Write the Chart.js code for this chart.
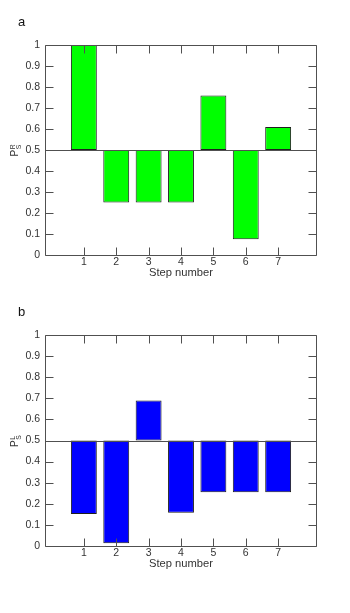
<!DOCTYPE html>
<html>
<head>
<meta charset="utf-8">
<script src="https://cdn.jsdelivr.net/npm/chart.js@4"></script>
<style>
  html, body { margin: 0; padding: 0; background: #fff; width: 350px; height: 613px; overflow: hidden; }
  .panel { position: absolute; left: 0; }
</style>
</head>
<body>
<div class="panel" style="top:0px"><canvas id="chartA" width="350" height="290"></canvas></div>
<div class="panel" style="top:290px"><canvas id="chartB" width="350" height="323"></canvas></div>
<script>
// ---- data ----
const steps = [1, 2, 3, 4, 5, 6, 7];
const pR = [1.0, 0.25, 0.25, 0.25, 0.76, 0.075, 0.61];   // panel a, P_S^R
const pL = [0.152, 0.013, 0.69, 0.157, 0.255, 0.255, 0.255]; // panel b, P_S^L
const baseline = 0.5;
const yTickLabels = ['0', '0.1', '0.2', '0.3', '0.4', '0.5', '0.6', '0.7', '0.8', '0.9', '1'];
const xTickLabels = ['1', '2', '3', '4', '5', '6', '7'];

const FONT = '"Liberation Sans", Arial, Helvetica, sans-serif';
const FRAME = '#505050';
const TEXT = '#333333';

function framePlugin(panelLetter, supText) {
  return {
    id: 'frame' + panelLetter,
    afterDraw(chart) {
      const { ctx, chartArea: a, scales } = chart;
      const xs = scales.x, ys = scales.y;
      ctx.save();
      ctx.strokeStyle = FRAME;
      ctx.lineWidth = 1;
      // baseline at 0.5
      const yb = Math.round(ys.getPixelForValue(baseline)) + 0.5;
      ctx.beginPath();
      ctx.moveTo(a.left, yb); ctx.lineTo(a.right, yb);
      ctx.stroke();
      // frame
      const L = Math.round(a.left) + 0.5, R = Math.round(a.right) - 0.5;
      const T = Math.round(a.top) + 0.5, B = Math.round(a.bottom) + 0.5;
      ctx.beginPath();
      ctx.moveTo(L, T); ctx.lineTo(R, T); ctx.lineTo(R, B); ctx.lineTo(L, B); ctx.closePath();
      ctx.stroke();
      const tl = 8;
      // y ticks inward on both sides
      ys.ticks.forEach(t => {
        const py = Math.round(ys.getPixelForValue(t.value)) + 0.5;
        ctx.beginPath();
        ctx.moveTo(L, py); ctx.lineTo(L + tl, py);
        ctx.moveTo(R, py); ctx.lineTo(R - tl, py);
        ctx.stroke();
      });
      // x ticks inward top and bottom
      xs.ticks.forEach(t => {
        const px = Math.round(xs.getPixelForValue(t.value)) + 0.5;
        ctx.beginPath();
        ctx.moveTo(px, B); ctx.lineTo(px, B - tl);
        ctx.moveTo(px, T); ctx.lineTo(px, T + tl);
        ctx.stroke();
      });
      // panel letter
      ctx.fillStyle = '#111';
      ctx.font = '13px ' + FONT;
      ctx.textBaseline = 'alphabetic';
      ctx.textAlign = 'left';
      ctx.fillText(panelLetter, 18, 26);
      // y-axis label P with superscript and subscript, rotated
      const cy = (a.top + a.bottom) / 2;
      ctx.translate(17.5, cy + 6.5);
      ctx.rotate(-Math.PI / 2);
      ctx.fillStyle = TEXT;
      ctx.font = '10px ' + FONT;
      ctx.fillText('P', 0, 0);
      const w = ctx.measureText('P').width;
      ctx.font = '6.8px ' + FONT;
      ctx.fillText(supText, w + 0.5, -3);
      ctx.fillText('S', w + 0.5, 3.5);
      ctx.restore();
    }
  };
}

function makeChart(id, values, color, letter, sup, padBottom) {
  const data = steps.map((s, i) => ({ x: s, y: [baseline, values[i]] }));
  return new Chart(document.getElementById(id), {
    type: 'bar',
    data: {
      datasets: [{
        data: data,
        backgroundColor: color,
        borderColor: '#1e1e1e',
        borderWidth: 1,
        borderSkipped: false,
        barPercentage: 0.8,
        categoryPercentage: 1.0
      }]
    },
    options: {
      responsive: false,
      animation: false,
      devicePixelRatio: 1,
      layout: { padding: { top: 45, right: 33, left: 0, bottom: padBottom } },
      plugins: { legend: { display: false }, tooltip: { enabled: false } },
      scales: {
        x: {
          type: 'linear',
          offset: false,
          min: -0.2,
          max: 8.2,
          afterBuildTicks: s => { s.ticks = steps.map(v => ({ value: v })); },
          afterFit: s => { s.height = 25; },
          grid: { display: false, drawTicks: false, offset: false },
          border: { display: false },
          ticks: {
            autoSkip: false,
            maxRotation: 0,
            padding: 1,
            color: TEXT,
            font: { family: FONT, size: 10.5 },
            callback: (v) => xTickLabels[steps.indexOf(v)] ?? ''
          },
          title: {
            display: true,
            text: 'Step number',
            color: TEXT,
            font: { family: FONT, size: 11.2 },
            padding: { top: 0, bottom: 0 }
          }
        },
        y: {
          min: 0,
          max: 1,
          afterBuildTicks: s => { s.ticks = yTickLabels.map((l, i) => ({ value: i / 10 })); },
          afterFit: s => { s.width = 45; },
          grid: { display: false, drawTicks: false },
          border: { display: false },
          ticks: {
            padding: 5,
            color: TEXT,
            font: { family: FONT, size: 10.5 },
            callback: (v) => yTickLabels[Math.round(v * 10)]
          }
        }
      }
    },
    plugins: [framePlugin(letter, sup)]
  });
}

makeChart('chartA', pR, '#00ff00', 'a', 'R', 10);
makeChart('chartB', pL, '#0000ff', 'b', 'L', 42);
</script>
</body>
</html>
